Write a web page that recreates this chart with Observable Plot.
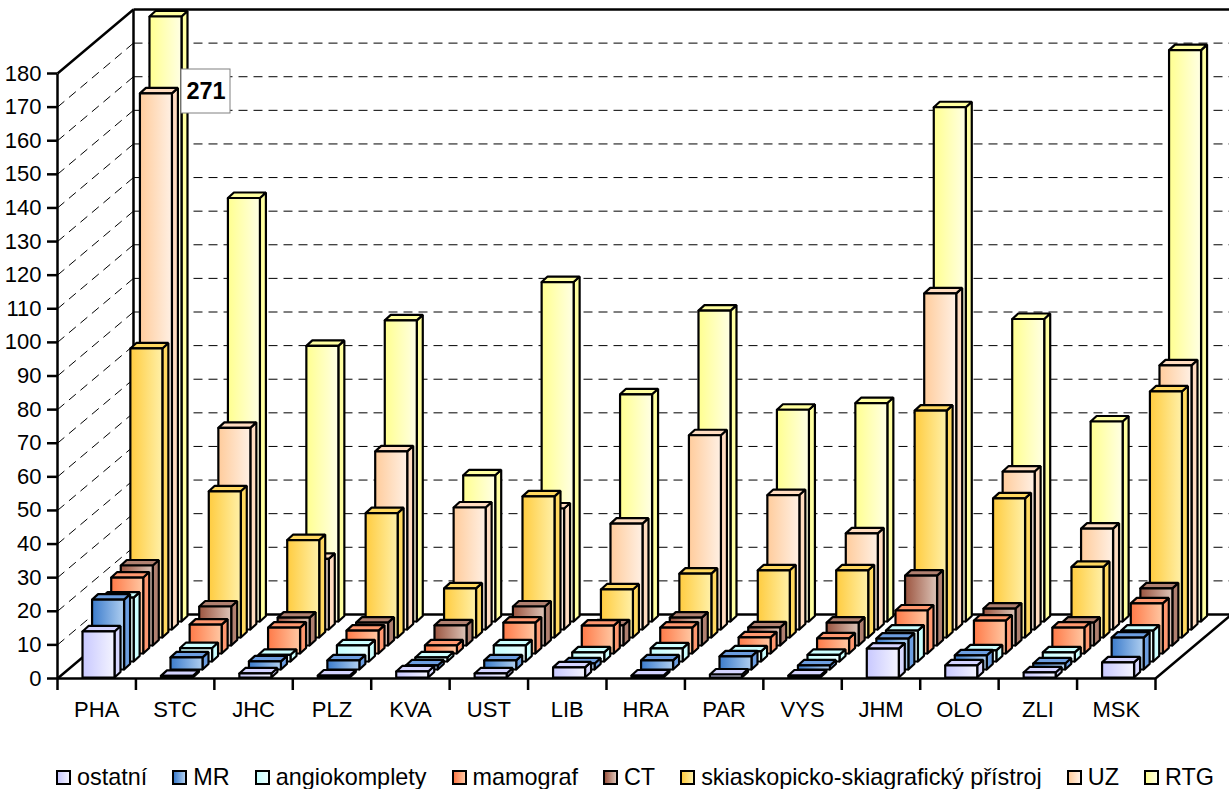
<!DOCTYPE html>
<html><head><meta charset="utf-8">
<script src="https://cdn.jsdelivr.net/npm/d3@7"></script>
<script src="https://cdn.jsdelivr.net/npm/@observablehq/plot@0.6"></script>
<style>
html,body{margin:0;padding:0;background:#fff;overflow:hidden}
#legend{display:flex;justify-content:space-between;box-sizing:border-box;width:1158px;margin-left:56px;margin-top:14px;
 font:23.4px "Liberation Sans",Arial,sans-serif;color:#000;line-height:26px}
#legend span.i{display:inline-flex;align-items:center;white-space:nowrap}
#legend i{display:inline-block;box-sizing:border-box;width:15px;height:15px;border:2px solid #000;margin-right:6px}
svg text{font-family:"Liberation Sans",Arial,sans-serif}
</style></head><body>
<div id="chart"></div><div id="legend"></div>
<script>
const regions = ["PHA","STC","JHC","PLZ","KVA","UST","LIB","HRA","PAR","VYS","JHM","OLO","ZLI","MSK"];
const seriesNames = ["ostatní","MR","angiokomplety","mamograf","CT","skiaskopicko-skiagrafický přístroj","UZ","RTG"];
const ostatni = [13.7,0.5,1.2,0.6,1.8,1.2,3,0.6,0.9,0.6,8.6,3.6,1.5,4.5];
const mr      = [20.8,3.6,2.4,2.7,1.2,2.7,1.8,2.7,3.9,1.2,9.2,4.2,1.8,9.5];
const angio   = [19,4,2,4.8,1.2,4.8,2.7,3.9,3,2,9.2,3.3,2.7,9.2];
const mamograf= [22.6,8.6,7.7,6.8,2.4,9.2,8.3,7.7,4.8,4.5,12.8,9.8,7.7,14.9];
const ct      = [23.8,11.6,8.3,6.8,6,11.6,6,8.3,5.4,6.8,20.8,11,6.8,17];
const skiask  = [86,43.5,29,37,14.6,42,14.3,19,20,20,67.5,41.4,21,73.2];
const uz      = [159.5,60,21,53,36.3,36,31.5,57.8,40,28.6,100,47,30,78.6];
const rtg     = [271,126,82,89.6,43.5,101,67.6,92.5,63,65,153,90,59.5,170];
const seriesValues = [ostatni,mr,angio,mamograf,ct,skiask,uz,rtg];
const gradFrom = ["#c8c8ff","#3c7ccc","#c4ffff","#ff7a48","#9c5540","#ffcc40","#ffcc9c","#ffff90"];
const gradTo   = ["#f4f4ff","#b0cff0","#ecffff","#ffc8a4","#dcc4b8","#fff0a8","#fff0e4","#ffffe4"];
const sideCol  = ["#d8d8ff","#6c9ee0","#ccffff","#ff9870","#b08070","#ffd860","#ffdcc0","#ffffa0"];
const topCol   = ["#d4d4ff","#6c9ee0","#ccffff","#ff9870","#b08070","#ffd860","#ffdcc0","#ffffa0"];
const yTicks = d3.range(0,181,10);

const H=750, W=1229, left=57, right=1155, y0=678, y180=73;
const ux=(right-left)/14, uy=(y0-y180)/180;       // pixels per unit
const DX=76/ux, DY=64/uy;                         // full depth of the floor
const slotX=9.57/ux, slotY=8/uy, barW=32/ux, depX=6/ux, depY=5.5/uy, startX=25/ux, startY=1/uy;
const yMax=180;

function poly(points,id){const p=[...points,points[0]];return p.map(([x,y])=>({x,y,id}));}
const barMarks=[];
for(let s=seriesValues.length-1;s>=0;s--){
  const front=[],side=[],top=[];
  seriesValues[s].forEach((v,c)=>{
    const x=c+startX+s*slotX, b=startY+s*slotY, t=b+Math.min(v,yMax);
    const id=s+"-"+c;
    front.push(...poly([[x,b],[x+barW,b],[x+barW,t],[x,t]],id));
    side.push(...poly([[x+barW,b],[x+barW+depX,b+depY],[x+barW+depX,t+depY],[x+barW,t]],id));
    top.push(...poly([[x,t],[x+barW,t],[x+barW+depX,t+depY],[x+depX,t+depY]],id));
  });
  for(const [d,f] of [[side,sideCol[s]],[top,topCol[s]],[front,`url(#g${s})`]])
    barMarks.push(Plot.line(d,{x:"x",y:"y",z:"id",fill:f,stroke:"#000",strokeWidth:2.2,strokeLinejoin:"miter"}));
}

const defs=()=>{
  const d=d3.create("svg:defs");
  seriesNames.forEach((_,s)=>{
    const g=d.append("linearGradient").attr("id","g"+s).attr("x1",0).attr("x2",1).attr("y1",0).attr("y2",0);
    g.append("stop").attr("offset",0).attr("stop-color",gradFrom[s]);
    g.append("stop").attr("offset",1).attr("stop-color",gradTo[s]);
  });
  return d.node();
};
const inner=yTicks.slice(1,-1);
const dash={stroke:"#000",strokeWidth:1,strokeDasharray:"9 6"};
const wall={stroke:"#000",strokeWidth:2.5};
const lk=(data,x1,y1,x2,y2,o)=>Plot.link(data,{x1:()=>x1,x2:()=>x2,y1:typeof y1==="function"?y1:()=>y1,y2:typeof y2==="function"?y2:()=>y2,...o});

const chart=Plot.plot({
  width:W,height:H,marginLeft:left,marginRight:W-right,marginTop:y180,marginBottom:H-y0,
  style:{background:"#fff",fontFamily:"Liberation Sans, Arial, sans-serif",fontSize:"22px",color:"#000"},
  x:{domain:[0,14],axis:null},y:{domain:[0,180],axis:null},
  marks:[
    defs,
    lk(inner,DX,d=>d+DY,14+DX,d=>d+DY,dash),
    lk(inner,0,d=>d,DX,d=>d+DY,dash),
    lk([180],0,d=>d,DX,d=>d+DY,wall),
    lk([0],0,d=>d,DX,d=>d+DY,wall),
    lk([180],DX,d=>d+DY,14+DX,d=>d+DY,wall),
    lk([0],DX,d=>d+DY,14+DX,d=>d+DY,wall),
    lk([0],14,d=>d,14+DX,d=>d+DY,wall),
    lk([0],DX,DY,DX,180+DY,wall),
    ...barMarks,
    lk([0],0,0,14,0,wall),
    lk([0],0,0,0,180,wall),
    Plot.axisY({ticks:yTicks,tickSize:10,tickPadding:6,label:null,strokeWidth:2.5,stroke:"#000",fill:"#000",fontSize:22,tickFormat:d=>String(d)}),
    Plot.axisX({ticks:d3.range(0,15),tickSize:12,tickFormat:()=>"",label:null,strokeWidth:2.5,stroke:"#000"}),
    Plot.axisX({ticks:regions.map((_,i)=>i+0.5),tickSize:0,tickPadding:23,label:null,fill:"#000",fontSize:22,tickFormat:d=>regions[Math.floor(d)]}),
    Plot.rect([rtg[0]],{x1:()=>(181-left)/ux,x2:()=>(230-left)/ux,y1:()=>(y0-113)/uy,y2:()=>(y0-69)/uy,fill:"#fff",stroke:"#808080",strokeWidth:1,inset:0}),
    Plot.text([rtg[0]],{x:()=>(205.5-left)/ux,y:()=>(y0-91)/uy,text:d=>String(d),fontWeight:"bold",fontSize:23.5,fill:"#000"})
  ]
});
document.getElementById("chart").append(chart);
const lg=document.getElementById("legend");
seriesNames.forEach((n,s)=>{
  const e=document.createElement("span");e.className="i";
  const sw=document.createElement("i");sw.style.background=`linear-gradient(to right,${gradFrom[s]},${gradTo[s]})`;
  e.append(sw,document.createTextNode(n));lg.append(e);
});
</script></body></html>
